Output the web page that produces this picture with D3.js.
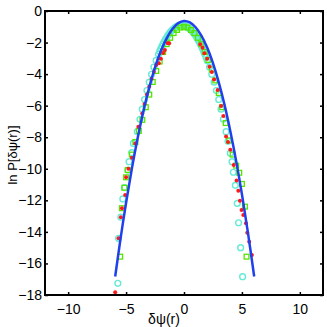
<!DOCTYPE html>
<html><head><meta charset="utf-8">
<script src="https://cdn.jsdelivr.net/npm/d3@7"></script>
<style>body{margin:0;background:#fff}svg{display:block}text{font-family:"Liberation Sans",Arial,sans-serif}</style>
</head><body>
<svg id="c" width="327" height="327"></svg>
<script>
// Tick values
const xTicks = [-10, -5, 0, 5, 10];
const yTicks = [0, -2, -4, -6, -8, -10, -12, -14, -16, -18];

// Gaussian fit curve (blue)
const fitX = [-5.94,-5.5,-5,-4.5,-4,-3.5,-3,-2.5,-2,-1.5,-1,-0.5,0,0.5,1,1.5,2,2.5,3,3.5,4,4.5,5,5.5,6.06];
const fitY = [-16.83,-14.54,-12.15,-9.99,-8.05,-6.33,-4.84,-3.58,-2.54,-1.73,-1.14,-0.77,-0.63,-0.72,-1.03,-1.56,-2.32,-3.31,-4.52,-5.95,-7.62,-9.50,-11.61,-13.95,-16.83];

// Cyan circles
const cyanX = [-5.71,-5.65,-5.45,-5.28,-5.14,-4.85,-4.74,-4.51,-4.37,-4.03,-3.8,-3.6,-3.4,-3.2,-3.0,-2.8,-2.6,-2.4,-2.2,-2.0,-1.8,-1.6,-1.4,-1.2,-1.0,-0.8,-0.6,-0.4,-0.2,0,0.2,0.4,0.6,0.8,1.0,1.2,1.4,1.6,1.8,2.0,2.2,2.4,2.6,2.8,3.0,3.2,3.4,3.63,3.8,4.0,4.15,4.26,4.43,4.6,4.71,4.89,5.06,
  -2.1,-1.9,-1.7,-1.5,-1.3,-1.1,-0.9,-0.7,-0.5,-0.3,-0.1,0.1,0.3,0.5,0.7,0.9,1.1,1.3,1.5,1.7,1.9];
const cyanY = [-17.26,-14.41,-13.07,-11.91,-11.2,-10.08,-9.55,-8.98,-8.39,-7.65,-6.86,-6.22,-5.61,-5.04,-4.51,-4.01,-3.55,-3.13,-2.74,-2.39,-2.08,-1.80,-1.56,-1.36,-1.19,-1.07,-0.97,-0.92,-0.90,-0.92,-0.97,-1.07,-1.19,-1.36,-1.56,-1.80,-2.08,-2.39,-2.74,-3.13,-3.55,-4.01,-4.51,-5.04,-5.61,-6.22,-6.86,-7.65,-8.26,-9.01,-9.55,-10.22,-11.05,-12.19,-13.42,-15.0,-16.84,
  -2.56,-2.23,-1.94,-1.68,-1.46,-1.27,-1.13,-1.02,-0.94,-0.90,-0.90,-0.94,-1.02,-1.13,-1.27,-1.46,-1.68,-1.94,-2.23,-2.56,-2.93];

// Green squares
const greenX = [-5.51,-5.36,-5.14,-5.0,-4.85,-4.5,-4.2,-3.9,-3.6,-3.3,-3.0,-2.7,-2.4,-2.1,-1.8,-1.5,-1.2,-0.9,-0.6,-0.3,0,0.3,0.6,0.9,1.2,1.5,1.8,2.1,2.4,2.7,3.0,3.3,3.6,3.9,4.2,4.5,4.77,5.0,5.26,5.4];
const greenY = [-15.57,-12.5,-11.2,-10.54,-10.08,-9.1,-8.3,-7.6,-6.9,-6.1,-5.3,-4.5,-3.8,-3.2,-2.6,-2.1,-1.7,-1.4,-1.2,-1.05,-1.0,-1.05,-1.2,-1.4,-1.7,-2.1,-2.6,-3.1,-3.7,-4.4,-5.2,-6.1,-7.1,-8.2,-9.1,-9.8,-10.25,-10.96,-12.4,-15.57];

// Red dots
const redX = [-5.94,-5.65,-5.45,-5.36,-5.08,-5.0,-4.8,-4.5,-4.2,-3.94,-3.6,-3.4,-3.2,-3.0,-2.8,-2.6,-2.4,-2.17,-2.0,-1.8,-1.65,-1.4,-1.28,1.4,1.6,1.77,2.0,2.2,2.4,2.6,2.91,3.2,3.4,3.63,3.8,4.0,4.29,4.54,4.69,4.83,4.97,5.12,5.35,5.46,5.63,5.86];
const redY = [-17.83,-14.41,-13.07,-12.5,-11.66,-10.54,-10.0,-9.3,-8.4,-7.33,-6.5,-5.9,-5.3,-4.8,-4.3,-3.85,-3.42,-3.31,-3.02,-2.66,-2.47,-2.04,-2.05,-2.11,-2.33,-2.68,-3.02,-3.53,-3.86,-4.34,-5.0,-6.02,-6.65,-7.96,-8.3,-8.8,-9.76,-10.75,-11.39,-12.02,-12.61,-12.93,-13.45,-14.05,-14.62,-15.46];

const svg = d3.select("#c");
const L = 45, R = 323, T = 11, B = 295;
const x = d3.scaleLinear().domain([-12, 12]).range([L, R]);
const y = d3.scaleLinear().domain([-18, 0]).range([B, T]);
const fmt = d => d < 0 ? "\u2212" + Math.abs(d) : String(d);

svg.append("defs").append("clipPath").attr("id","clip")
  .append("rect").attr("x",L).attr("y",T).attr("width",R-L).attr("height",B-T);

const plot = svg.append("g").attr("clip-path","url(#clip)");

// cyan circles
plot.append("g").selectAll("circle").data(d3.zip(cyanX, cyanY)).join("circle")
  .attr("cx", d => x(d[0])).attr("cy", d => y(d[1])).attr("r", 2.9)
  .attr("fill","none").attr("stroke","#66ead6").attr("stroke-width",1.4);

// green squares
plot.append("g").selectAll("rect").data(d3.zip(greenX, greenY)).join("rect")
  .attr("x", d => x(d[0]) - 2.4).attr("y", d => y(d[1]) - 2.4).attr("width", 4.8).attr("height", 4.8)
  .attr("fill","none").attr("stroke","#55e600").attr("stroke-width",1.3);

// red dots
plot.append("g").selectAll("circle").data(d3.zip(redX, redY)).join("circle")
  .attr("cx", d => x(d[0])).attr("cy", d => y(d[1])).attr("r", 2.0)
  .attr("fill","#ff1a1a");

// blue fit
plot.append("path").datum(d3.zip(fitX, fitY))
  .attr("d", d3.line().x(d => x(d[0])).y(d => y(d[1])).curve(d3.curveCatmullRom))
  .attr("fill","none").attr("stroke","#2040ee").attr("stroke-width",2.5);

// axes
const ax = svg.append("g");
ax.append("g").attr("transform",`translate(0,${B})`)
  .call(d3.axisBottom(x).tickValues(xTicks).tickFormat(fmt).tickSizeInner(-3).tickSizeOuter(0).tickPadding(9));
ax.append("g").attr("transform",`translate(0,${T})`)
  .call(d3.axisTop(x).tickValues(xTicks).tickFormat("").tickSizeInner(-3).tickSizeOuter(0));
ax.append("g").attr("transform",`translate(${L},0)`)
  .call(d3.axisLeft(y).tickValues(yTicks).tickFormat(fmt).tickSizeInner(-3).tickSizeOuter(0).tickPadding(3));
ax.append("g").attr("transform",`translate(${R},0)`)
  .call(d3.axisRight(y).tickValues(yTicks).tickFormat("").tickSizeInner(-3).tickSizeOuter(0));
ax.selectAll(".domain").remove();
ax.selectAll(".tick line").attr("stroke","#000").attr("stroke-width",1.5);
ax.selectAll(".tick text").attr("font-size",14).attr("fill","#000")
  .attr("font-family","'Liberation Sans',Arial,sans-serif");

svg.append("rect").attr("x",L).attr("y",T).attr("width",R-L).attr("height",B-T)
  .attr("fill","none").attr("stroke","#000").attr("stroke-width",2);

// axis titles
svg.append("text").attr("x",164).attr("y",324).attr("text-anchor","middle")
  .attr("font-size",14).text("δψ(r)");
svg.append("text").attr("transform","translate(17,155) rotate(-90)").attr("text-anchor","middle")
  .attr("font-size",13).text("ln P[δψ(r)]");
</script>
</body></html>
